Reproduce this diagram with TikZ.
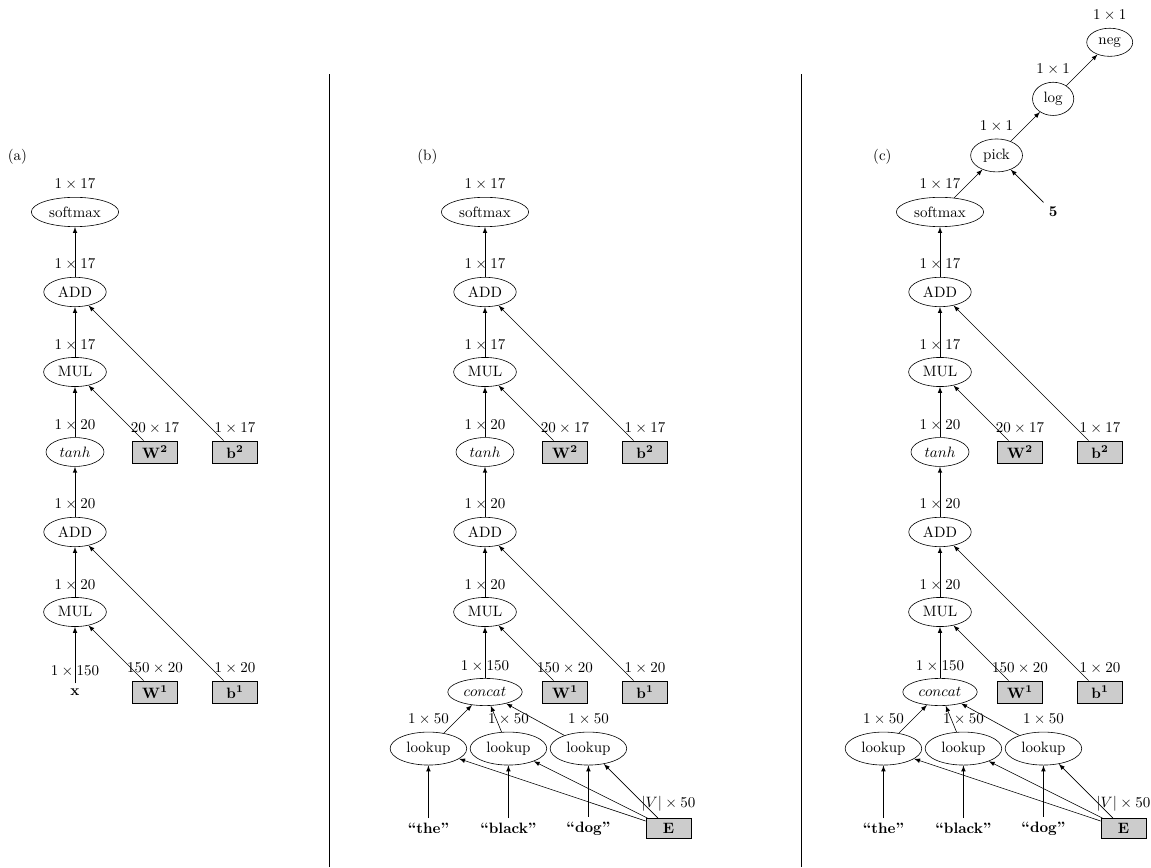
\documentclass[tikz,border=0pt]{standalone}
\usepackage{amsmath}
\usepackage{amssymb}
\usetikzlibrary{arrows,shapes.geometric}

\begin{document}
\begin{tikzpicture}[x=53.333pt,y=53.333pt,label distance=1pt,
	op/.style={ellipse,draw},
	param/.style={rectangle,draw,fill=gray!40,minimum width=30pt}]
		\useasboundingbox (-0.9375,-0.1875) rectangle (13.45,10.65);
		\draw (3.179,-0.1875) -- (3.179,9.725); % separators
		\draw (9.084,-0.1875) -- (9.084,9.725);
		\foreach \p/\s in {a/0,b/5.125,c/10.8125} % the part all three share
		{
		\begin{scope}[shift={(\s,0)}]
		\node (tag\p) at (-0.72,8.69) {(\p)};
		\node[op,label=above:$1\times 17$] (sm\p) at (0,8) {softmax};
		\node[op,label=above:$1\times 17$] (addtwo\p) at (0,7) {ADD};
		\node[op,label=above:$1\times 17$] (multwo\p) at (0,6) {MUL};
		\node[op,label=above:$1\times 20$] (tanh\p) at (0,5) {$tanh$};
		\node[op,label=above:$1\times 20$] (addone\p) at (0,4) {ADD};
		\node[op,label=above:$1\times 20$] (mulone\p) at (0,3) {MUL};
		\node[param,label=above:$20\times 17$] (Wtwo\p) at (1,5) {$\mathbf{W^2}$};
		\node[param,label=above:$1\times 17$] (btwo\p) at (2,5) {$\mathbf{b^2}$};
		\node[param,label=above:$150\times 20$] (Wone\p) at (1,2) {$\mathbf{W^1}$};
		\node[param,label=above:$1\times 20$] (bone\p) at (2,2) {$\mathbf{b^1}$};
		\end{scope}
		\draw[-latex] (addtwo\p) -- (sm\p);
		\draw[-latex] (multwo\p) -- (addtwo\p);
		\draw[-latex] (tanh\p) -- (multwo\p);
		\draw[-latex] (addone\p) -- (tanh\p);
		\draw[-latex] (mulone\p) -- (addone\p);
		\draw[-latex] (Wtwo\p) -- (multwo\p);
		\draw[-latex] (btwo\p) -- (addtwo\p);
		\draw[-latex] (Wone\p) -- (mulone\p);
		\draw[-latex] (bone\p) -- (addone\p);
		}
		% (a): plain input vector
		\node[label=above:$1\times 150$] (x) at (0,2) {$\mathbf{x}$};
		\draw[-latex] (x) -- (mulonea);
		% (b) and (c): embedding lookups
		\foreach \p/\s in {b/5.125,c/10.8125}
		{
		\begin{scope}[shift={(\s,0)}]
		\node[op,label=above:$1\times 150$] (concat\p) at (0,2) {$concat$};
		\node[param,label=above:$|V|\times 50$] (E\p) at (2.2929,0.2929) {$\mathbf{E}$};
		\foreach \i/\w in {0/the,1/black,2/dog}
		{
		\node[op,label=above:$1\times 50$] (lk\i\p) at (-0.7071+\i,1.2929) {lookup};
		\node (wd\i\p) at (-0.7071+\i,0.2929) {\textbf{``\w''}};
		}
		\end{scope}
		\draw[-latex] (concat\p) -- (mulone\p);
		\foreach \i in {0,1,2}
		{
		\draw[-latex] (wd\i\p) -- (lk\i\p);
		\draw[-latex] (lk\i\p) -- (concat\p);
		\draw[-latex] (E\p) -- (lk\i\p);
		}
		}
		% (c): loss on top
		\node[op,label=above:$1\times 1$] (pick) at ([shift={(45:1)}]smc) {pick};
		\node[op,label=above:$1\times 1$] (log) at ([shift={(45:1)}]pick) {log};
		\node[op,label=above:$1\times 1$] (neg) at ([shift={(45:1)}]log) {neg};
		\node (five) at ([shift={(-45:1)}]pick) {$\mathbf{5}$};
		\draw[-latex] (smc) -- (pick);
		\draw[-latex] (five) -- (pick);
		\draw[-latex] (pick) -- (log);
		\draw[-latex] (log) -- (neg);
\end{tikzpicture}
\end{document}
